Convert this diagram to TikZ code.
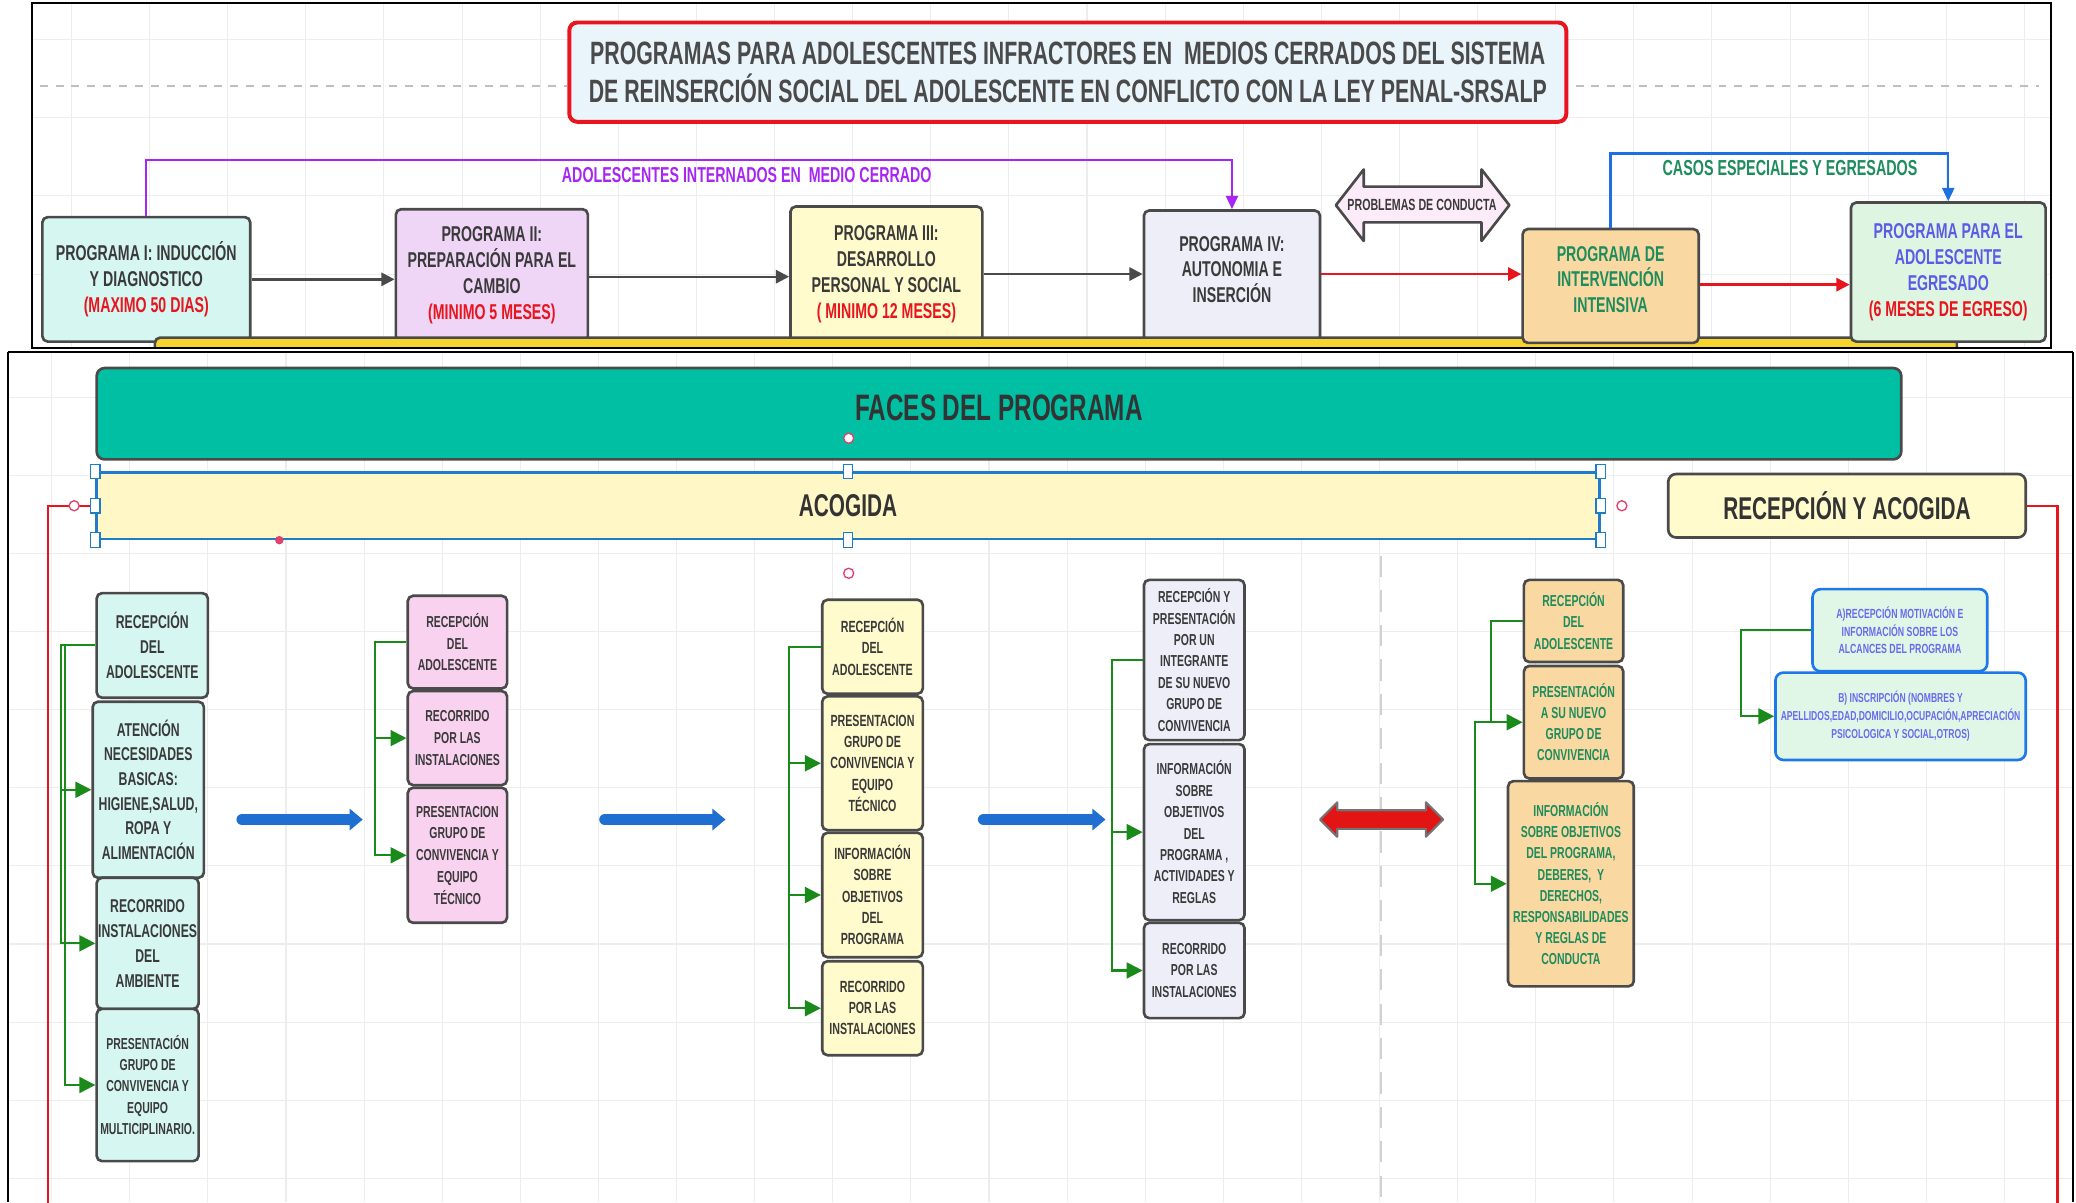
\documentclass[tikz,border=0pt]{standalone}
\usepackage{fontspec}
\setmainfont{Liberation Sans}[FakeStretch=0.66]
\usetikzlibrary{arrows.meta}
\definecolor{bd}{HTML}{4A4A4A}
\definecolor{tx}{HTML}{3A3A3A}
\definecolor{rd}{HTML}{E8141E}
\definecolor{cyanF}{HTML}{D6F6F2}
\definecolor{lilF}{HTML}{EFD6F6}
\definecolor{pinkF}{HTML}{F8D2EF}
\definecolor{yelF}{HTML}{FFFBCC}
\definecolor{lavF}{HTML}{EEEEF9}
\definecolor{orF}{HTML}{FAD8A2}
\definecolor{grF}{HTML}{DEF6E1}
\definecolor{grT}{HTML}{1E8C5C}
\definecolor{vioT}{HTML}{5B5BE6}
\definecolor{purp}{HTML}{A726F2}
\definecolor{blu}{HTML}{1E70E0}
\definecolor{titF}{HTML}{EAF4FB}
\definecolor{tealF}{HTML}{00BFA3}
\definecolor{acoF}{HTML}{FFF8C6}
\definecolor{barY}{HTML}{F6D62E}
\definecolor{selB}{HTML}{1F7CC8}
\definecolor{pinkC}{HTML}{E2406C}
\definecolor{grnA}{HTML}{1A8A1A}
\definecolor{bigB}{HTML}{1F6FD2}
\definecolor{bigR}{HTML}{E21414}
\definecolor{gridc}{HTML}{EDEDED}
\definecolor{c6T}{HTML}{6A6AEE}
\definecolor{c6B}{HTML}{1E78E8}
\definecolor{c6F}{HTML}{E0F7E7}
\definecolor{titT}{HTML}{4A4A4A}

\newcommand\bx[7]{%
  \pgfmathsetmacro\myW{(#4-#2)*0.5}%
  \pgfmathsetmacro\myH{(#5-#3)*0.5}%
  \pgfmathsetmacro\myX{(#2+#4)/2}%
  \pgfmathsetmacro\myY{(#3+#5)/2}%
  \node[#6, minimum width=\myW pt, minimum height=\myH pt] (#1) at (\myX,\myY) {#7};}

\tikzset{
  box/.style={draw=bd, line width=1pt, rounded corners=2pt, inner sep=0.5pt, align=center, text=tx},
  topbox/.style={box, font=\bfseries\fontsize{8.1}{9.75}\selectfont},
  cA/.style={box, fill=cyanF, font=\bfseries\fontsize{7}{9.5}\selectfont},
  cAs/.style={box, fill=cyanF, font=\bfseries\fontsize{6}{8}\selectfont},
  cB/.style={box, fill=pinkF, font=\bfseries\fontsize{6}{8.25}\selectfont},
  cC/.style={box, fill=yelF, font=\bfseries\fontsize{6.1}{8}\selectfont},
  cD/.style={box, fill=lavF, font=\bfseries\fontsize{6}{8.1}\selectfont},
  cE/.style={box, fill=orF, text=grT, font=\bfseries\fontsize{6}{8}\selectfont},
  cF/.style={box, draw=c6B, fill=c6F, text=c6T, rounded corners=3pt, font=\bfseries\fontsize{5}{6.75}\selectfont},
  gline/.style={draw=grnA, line width=0.8pt, -{Triangle[length=6pt,width=6pt]}},
  garrow/.style={draw=bd, line width=0.9pt, -{Triangle[length=5pt,width=5pt]}},
  rarrow/.style={draw=rd, line width=0.9pt, -{Triangle[length=5pt,width=5pt]}},
  bigarrow/.style={draw=bigB, line width=4.4pt, line cap=round, -{Triangle[length=5pt,width=8pt]}},
  handle/.style={draw=selB, fill=white, line width=0.5pt, minimum width=3.5pt, minimum height=5.5pt, inner sep=0pt},
  pinkring/.style={draw=pinkC, fill=white, line width=0.5pt, circle, minimum size=3.8pt, inner sep=0pt},
  redln/.style={draw=rd, line width=0.8pt},
  gridln/.style={draw=gridc, line width=0.4pt}
}

\begin{document}
\begin{tikzpicture}[x=0.5pt,y=-0.5pt]
\useasboundingbox (0,0) rectangle (1568,908);
\fill[white] (0,0) rectangle (1568,908);

% ================= TOP FRAME =================
\begin{scope}
\clip (24,2) rectangle (1549,263);
\foreach \gx in {54,113,...,1549} \draw[gridln] (\gx,2) -- (\gx,263);
\foreach \gy in {30,89,148,207} \draw[gridln] (24,\gy) -- (1549,\gy);
\draw[black!25, dashed, line width=0.6pt] (30,65) -- (428,65);
\draw[black!25, dashed, line width=0.6pt] (1190,65) -- (1540,65);

\bx{T}{430}{17}{1183}{92}{box, draw=rd, line width=1.5pt, rounded corners=3pt, fill=titF, text=titT, font=\bfseries\fontsize{12.2}{14.5}\selectfont}{PROGRAMAS PARA ADOLESCENTES INFRACTORES EN\ \ MEDIOS CERRADOS DEL SISTEMA\\DE REINSERCIÓN SOCIAL DEL ADOLESCENTE EN CONFLICTO CON LA LEY PENAL-SRSALP}

\bx{P1}{32}{164}{189}{258}{topbox, fill=cyanF}{PROGRAMA I: INDUCCIÓN\\Y DIAGNOSTICO\\\textcolor{rd}{(MAXIMO 50 DIAS)}}
\bx{P2}{299}{158}{444}{258}{topbox, fill=lilF}{PROGRAMA II:\\PREPARACIÓN PARA EL\\CAMBIO\\\textcolor{rd}{(MINIMO 5 MESES)}}
\bx{P3}{597}{156}{742}{258}{topbox, fill=yelF}{PROGRAMA III:\\DESARROLLO\\PERSONAL Y SOCIAL\\\textcolor{rd}{( MINIMO 12 MESES)}}
\bx{P4}{864}{159}{997}{258}{topbox, fill=lavF, text depth=5pt}{PROGRAMA IV:\\AUTONOMIA E\\INSERCIÓN}

% yellow bar
\draw[draw=bd, line width=1pt, fill=barY, rounded corners=2pt] (117,255) rectangle (1478,275);

\bx{P5}{1150}{173}{1283}{259}{topbox, fill=orF, text=grT, text depth=5pt}{PROGRAMA DE\\INTERVENCIÓN\\INTENSIVA}
\bx{P6}{1398}{153}{1545}{258}{topbox, fill=grF, text=vioT}{PROGRAMA PARA EL\\ADOLESCENTE\\EGRESADO\\\textcolor{rd}{(6 MESES DE EGRESO)}}

% problemas de conducta
\draw[draw=bd, line width=1pt, fill=pinkF!45, line join=round]
  (1009,155) -- (1030,128) -- (1030,141) -- (1119,141) -- (1119,128) -- (1140,155)
  -- (1119,182) -- (1119,168) -- (1030,168) -- (1030,182) -- cycle;
\node[text=tx, font=\bfseries\fontsize{6.1}{7}\selectfont] (pc) at (1074,155) {PROBLEMAS DE CONDUCTA};

% flow arrows
\coordinate (r1) at (0,211);
\coordinate (r2) at (0,209);
\coordinate (r3) at (0,207);
\coordinate (r4) at (0,207);
\coordinate (r5) at (0,215);
\draw[garrow] (P1.east |- r1) -- (P2.west |- r1);
\draw[garrow] (P2.east |- r2) -- (P3.west |- r2);
\draw[garrow] (P3.east |- r3) -- (P4.west |- r3);
\draw[rarrow] (P4.east |- r4) -- (P5.west |- r4);
\draw[rarrow] (P5.east |- r5) -- (P6.west |- r5);

% purple and blue connectors
\coordinate (pm) at (500,121);
\draw[draw=purp, line width=0.9pt, -{Triangle[length=5pt,width=4.5pt]}] (P1.north) |- (pm) -| (P4.north);
\node[text=purp, font=\bfseries\fontsize{8.15}{9}\selectfont] (lp) at (564,132) {ADOLESCENTES INTERNADOS EN\ \ MEDIO CERRADO};
\coordinate (bm) at (1300,116);
\draw[draw=blu, line width=0.9pt, -{Triangle[length=5pt,width=4.5pt]}] (P5.north) |- (bm) -| (P6.north);
\node[text=grT, font=\bfseries\fontsize{8.2}{9}\selectfont] (lb) at (1352,127) {CASOS ESPECIALES Y EGRESADOS};
\end{scope}
\draw[black, line width=0.7pt] (24,2) rectangle (1549,263);

% ================= BOTTOM FRAME =================
\begin{scope}
\clip (6,266) rectangle (1566,908);
\foreach \gx in {39,98,...,1566} \draw[gridln] (\gx,266) -- (\gx,908);
\foreach \gy in {300,359,...,908} \draw[gridln] (6,\gy) -- (1566,\gy);
\draw[black!18, dashed, line width=0.8pt, dash pattern=on 8pt off 5pt] (1043,420) -- (1043,908);

\bx{F}{73}{278}{1436}{347}{box, fill=tealF, rounded corners=3pt, text=black!80, text depth=4.5pt, font=\bfseries\fontsize{13.9}{16}\selectfont}{FACES DEL PROGRAMA}
\node[pinkring] (k1) at (641,331) {};

% ACOGIDA (selected)
\bx{A}{73}{357}{1208}{407}{draw=selB, line width=0.9pt, fill=acoF, text=black!80, font=\bfseries\fontsize{11.9}{13}\selectfont}{ACOGIDA}
\coordinate (redL) at (36,930);
\draw[redln] (A.west) -| (redL);
\foreach \p in {A.north west, A.west, A.south west, A.north, A.south, A.north east, A.east, A.south east}
  \node[handle] at (\p) {};
\node[pinkring] (k2) at (56,382) {};
\node[pinkring] (k3) at (641,433) {};
\node[pinkring] (k4) at (1225,382) {};
\fill[pinkC] (211,408) circle (3.2);

\bx{R}{1260}{358}{1530}{406}{box, fill=yelF, text=black!80, rounded corners=3pt, font=\bfseries\fontsize{11.9}{13}\selectfont}{RECEPCIÓN Y ACOGIDA}
\coordinate (redR) at (1554,930);
\draw[redln] (R.east) -| (redR);

% column 1
\bx{C1a}{73}{448}{157}{527}{cA}{RECEPCIÓN\\DEL\\ADOLESCENTE}
\bx{C1b}{70}{530}{154}{663}{cA, font=\bfseries\fontsize{7}{9.3}\selectfont}{ATENCIÓN\\NECESIDADES\\BASICAS:\\HIGIENE,SALUD,\\ROPA Y\\ALIMENTACIÓN}
\bx{C1c}{73}{663}{150}{762}{cA}{RECORRIDO\\INSTALACIONES\\DEL\\AMBIENTE}
\bx{C1d}{73}{762}{150}{877}{cAs}{PRESENTACIÓN\\GRUPO DE\\CONVIVENCIA Y\\EQUIPO\\MULTICIPLINARIO.}
\draw[gline] (C1a.west) -- ++(-26,0) |- (C1b.west);
\draw[gline] (C1a.west) -- ++(-26,0) |- (C1c.west);
\draw[gline] (C1a.west) -- ++(-23,0) |- (C1d.west);

% column 2
\bx{C2a}{308}{450}{383}{520}{cB}{RECEPCIÓN\\DEL\\ADOLESCENTE}
\bx{C2b}{308}{522}{383}{593}{cB}{RECORRIDO\\POR LAS\\INSTALACIONES}
\bx{C2c}{308}{595}{383}{697}{cB}{PRESENTACION\\GRUPO DE\\CONVIVENCIA Y\\EQUIPO\\TÉCNICO}
\draw[gline] (C2a.west) -- ++(-24,0) |- (C2b.west);
\draw[gline] (C2a.west) -- ++(-24,0) |- (C2c.west);

% column 3
\bx{C3a}{621}{453}{697}{524}{cC}{RECEPCIÓN\\DEL\\ADOLESCENTE}
\bx{C3b}{621}{526}{697}{627}{cC}{PRESENTACION\\GRUPO DE\\CONVIVENCIA Y\\EQUIPO\\TÉCNICO}
\bx{C3c}{621}{629}{697}{723}{cC}{INFORMACIÓN\\SOBRE\\OBJETIVOS\\DEL\\PROGRAMA}
\bx{C3d}{621}{726}{697}{797}{cC}{RECORRIDO\\POR LAS\\INSTALACIONES}
\draw[gline] (C3a.west) -- ++(-24,0) |- (C3b.west);
\draw[gline] (C3a.west) -- ++(-24,0) |- (C3c.west);
\draw[gline] (C3a.west) -- ++(-24,0) |- (C3d.west);

% column 4
\bx{C4a}{864}{438}{940}{559}{cD}{RECEPCIÓN Y\\PRESENTACIÓN\\POR UN\\INTEGRANTE\\DE SU NUEVO\\GRUPO DE\\CONVIVENCIA}
\bx{C4b}{864}{562}{940}{695}{cD}{INFORMACIÓN\\SOBRE\\OBJETIVOS\\DEL\\PROGRAMA ,\\ACTIVIDADES Y\\REGLAS}
\bx{C4c}{864}{697}{940}{769}{cD}{RECORRIDO\\POR LAS\\INSTALACIONES}
\draw[gline] (C4a.west) -- ++(-23,0) |- (C4b.west);
\draw[gline] (C4a.west) -- ++(-23,0) |- (C4c.west);

% column 5
\bx{C5a}{1151}{438}{1226}{500}{cE}{RECEPCIÓN\\DEL\\ADOLESCENTE}
\bx{C5b}{1151}{503}{1226}{588}{cE}{PRESENTACIÓN\\A SU NUEVO\\GRUPO DE\\CONVIVENCIA}
\bx{C5c}{1139}{590}{1234}{745}{cE}{INFORMACIÓN\\SOBRE OBJETIVOS\\DEL PROGRAMA,\\DEBERES,\ \ Y\\DERECHOS,\\RESPONSABILIDADES\\Y REGLAS DE\\CONDUCTA}
\draw[gline] (C5a.west) -- ++(-24,0) |- (C5b.west);
\draw[gline] (C5b.west) ++(-24,0) -- ++(-12,0) |- (C5c.west);

% column 6
\bx{C6a}{1369}{445}{1501}{507}{cF}{A)RECEPCIÓN MOTIVACIÓN E\\INFORMACIÓN SOBRE LOS\\ALCANCES DEL PROGRAMA}
\bx{C6b}{1341}{508}{1530}{574}{cF, font=\bfseries\fontsize{4.9}{6.75}\selectfont}{B) INSCRIPCIÓN (NOMBRES Y\\APELLIDOS,EDAD,DOMICILIO,OCUPACIÓN,APRECIACIÓN\\PSICOLOGICA Y SOCIAL,OTROS)}
\draw[gline] (C6a.west) -- ++(-53,0) |- (C6b.west);

% big arrows between columns
\coordinate (b1s) at (183,619); \coordinate (b1e) at (274,619);
\coordinate (b2s) at (457,619); \coordinate (b2e) at (548,619);
\coordinate (b3s) at (743,619); \coordinate (b3e) at (835,619);
\draw[bigarrow] (b1s) -- (b1e);
\draw[bigarrow] (b2s) -- (b2e);
\draw[bigarrow] (b3s) -- (b3e);
\draw[draw=black!55, line width=0.8pt, fill=bigR, line join=round]
  (997,619) -- (1010,606) -- (1010,612) -- (1077,612) -- (1077,606) -- (1090,619)
  -- (1077,632) -- (1077,626) -- (1010,626) -- (1010,632) -- cycle;
\end{scope}
\draw[black, line width=0.7pt] (6,266) -- (1566,266);
\draw[black, line width=0.7pt] (6,266) -- (6,908);
\draw[black, line width=0.7pt] (1566,266) -- (1566,908);
\end{tikzpicture}
\end{document}
